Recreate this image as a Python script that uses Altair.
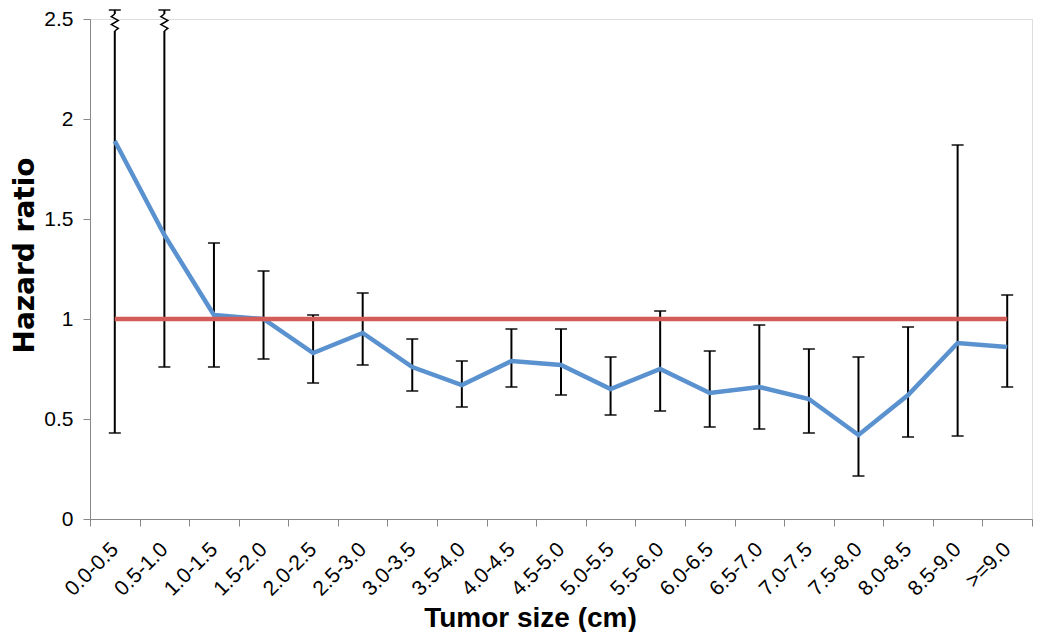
import altair as alt
import pandas as pd

categories = ["0.0-0.5", "0.5-1.0", "1.0-1.5", "1.5-2.0", "2.0-2.5", "2.5-3.0",
              "3.0-3.5", "3.5-4.0", "4.0-4.5", "4.5-5.0", "5.0-5.5", "5.5-6.0",
              "6.0-6.5", "6.5-7.0", "7.0-7.5", "7.5-8.0", "8.0-8.5", "8.5-9.0", ">=9.0"]
hazard_ratio = [1.89, 1.42, 1.02, 1.00, 0.83, 0.93, 0.76, 0.67, 0.79, 0.77,
                0.65, 0.75, 0.63, 0.66, 0.60, 0.42, 0.62, 0.88, 0.86]
ci_lower = [0.43, 0.76, 0.76, 0.80, 0.68, 0.77, 0.64, 0.56, 0.66, 0.62,
            0.52, 0.54, 0.46, 0.45, 0.43, 0.215, 0.41, 0.415, 0.66]
# upper limits; the first two run off the chart (drawn with a break marker)
ci_upper = [2.545, 2.545, 1.38, 1.24, 1.02, 1.13, 0.90, 0.79, 0.95, 0.95,
            0.81, 1.04, 0.84, 0.97, 0.85, 0.81, 0.96, 1.87, 1.12]
off_chart = [True, True] + [False] * 17
reference_value = 1.0

BREAK_LOW, BREAK_HIGH = 2.44, 2.525

df = pd.DataFrame({
    "cat": categories,
    "idx": list(range(len(categories))),
    "hr": hazard_ratio,
    "lo": ci_lower,
    "hi": ci_upper,
    "off": off_chart,
})
df["ref"] = reference_value

seg_rows = []
for _, r in df.iterrows():
    if r["off"]:
        seg_rows.append({"cat": r["cat"], "y1": r["lo"], "y2": BREAK_LOW})
        seg_rows.append({"cat": r["cat"], "y1": BREAK_HIGH, "y2": r["hi"]})
    else:
        seg_rows.append({"cat": r["cat"], "y1": r["lo"], "y2": r["hi"]})
seg = pd.DataFrame(seg_rows)

cap_rows = []
for _, r in df.iterrows():
    cap_rows.append({"cat": r["cat"], "y": r["lo"]})
    cap_rows.append({"cat": r["cat"], "y": r["hi"]})
caps = pd.DataFrame(cap_rows)

# zigzag break markers (offset within the category band)
zig_dx = [0.0, 0.07, -0.07, 0.07, -0.07, 0.0]
zig_f = [0.0, 0.15, 0.38, 0.62, 0.85, 1.0]
zig_rows = []
for _, r in df[df["off"]].iterrows():
    for k, (dx, f) in enumerate(zip(zig_dx, zig_f)):
        zig_rows.append({"cat": r["cat"], "k": k, "dx": dx,
                         "y": BREAK_LOW + f * (BREAK_HIGH - BREAK_LOW)})
zig = pd.DataFrame(zig_rows)

W, H = 942, 500

xscale = alt.Scale(type="band", paddingInner=0, paddingOuter=0, domain=categories)
yscale = alt.Scale(domain=[0, 2.5], nice=False, zero=True)

x_axis = alt.Axis(
    title="Tumor size (cm)", titleFont="Liberation Sans", titleFontSize=28,
    titleFontWeight="bold", titleColor="black", titleX=440, titleY=107,
    titleBaseline="alphabetic", titleAlign="center",
    labelAngle=-45, labelAlign="right", labelBaseline="middle",
    labelPadding=20, labelOverlap=False, labelFontSize=21,
    tickBand="extent", tickSize=7, grid=False,
)
y_axis = alt.Axis(
    title="Hazard ratio", titleFont="DejaVu Sans", titleFontSize=28,
    titleFontWeight="bold", titleColor="black", titleX=-57, titleY=236,
    titleBaseline="alphabetic", titleAlign="center", titleAngle=270,
    values=[0, 0.5, 1, 1.5, 2, 2.5], format="~g",
    labelPadding=10, labelFontSize=21, tickSize=7, grid=False,
)

X = alt.X("cat:N", scale=xscale, sort=categories, axis=x_axis)
Yax = dict(scale=yscale, axis=y_axis)

rules = alt.Chart(seg).mark_rule(color="black", strokeWidth=2).encode(
    x=X,
    y=alt.Y("y1:Q", **Yax),
    y2="y2:Q",
)
cap_marks = alt.Chart(caps).mark_tick(
    color="black", size=12, thickness=2, orient="horizontal"
).encode(
    x=X,
    y=alt.Y("y:Q", **Yax),
)
zz = alt.Chart(zig).mark_line(color="black", strokeWidth=1.5).encode(
    x=X,
    xOffset=alt.XOffset("dx:Q", scale=alt.Scale(domain=[-0.5, 0.5], nice=False, zero=False)),
    y=alt.Y("y:Q", **Yax),
    detail="cat:N",
    order="k:Q",
)
blue = alt.Chart(df).mark_line(color="#5a91cf", strokeWidth=4.5).encode(
    x=X,
    y=alt.Y("hr:Q", **Yax),
    order="idx:Q",
)
red = alt.Chart(df).mark_line(color="#d45c58", strokeWidth=4.5).encode(
    x=X,
    y=alt.Y("ref:Q", **Yax),
    order="idx:Q",
)

chart = alt.layer(rules, cap_marks, zz, blue, red).properties(
    width=W, height=H,
    autosize=alt.AutoSizeParams(type="none"),
    padding={"left": 82, "top": 11, "right": 8, "bottom": 113},
).configure_view(stroke=None).configure_axis(
    grid=False, domainColor="#a0a0a0", tickColor="#a0a0a0",
    domainWidth=1.5, tickWidth=1.5,
    labelFont="Liberation Sans", labelColor="black",
).configure(background="white")

chart.save("out.html", embed_options={"renderer": "svg", "actions": False})
